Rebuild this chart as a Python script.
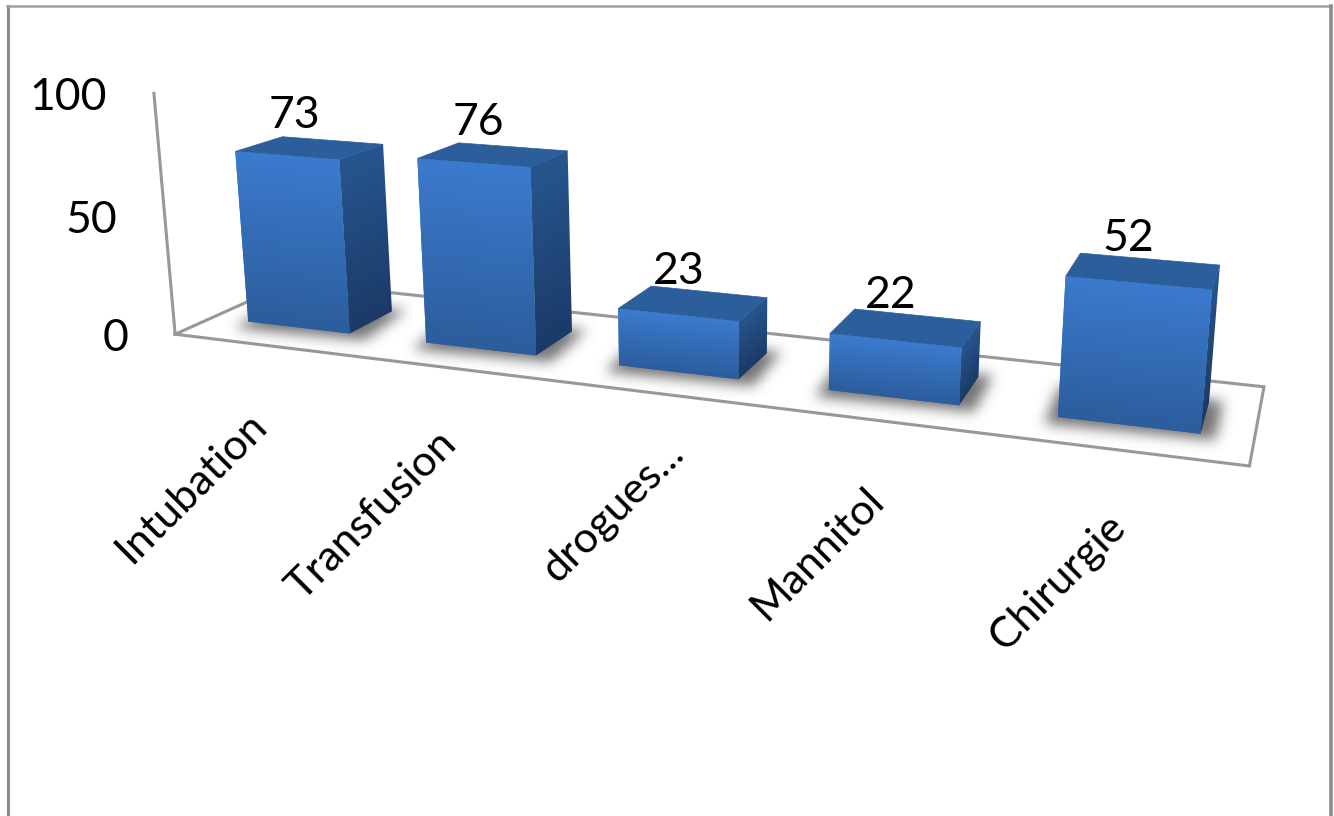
import numpy as np, pandas as pd, seaborn as sns
import matplotlib
matplotlib.use("Agg")
import matplotlib.pyplot as plt
from matplotlib.path import Path
from matplotlib.patches import Polygon
from matplotlib.transforms import Transform

categories = ["Intubation", "Transfusion", "drogues...", "Mannitol", "Chirurgie"]
values = [73, 76, 23, 22, 52]
y_ticks = [0, 50, 100]

W, D0, D1 = 0.58, 0.3, 0.7
# perspective camera of the 3-D chart box: (category, depth, value, 1) -> pixel
CAMERA = np.array([[165.313036, 147.809866, -0.269833, 175.13871],
                   [7.884389, -21.882257, -2.443741, 334.213074],
                   [-0.039652, 0.10769, -0.000374, 1.0]])

def proj(u, d, v):
    h = CAMERA @ np.array([u, d, v, 1.0])
    return np.array([h[0] / h[2], h[1] / h[2]])

class FrontFace(Transform):
    input_dims = output_dims = 2
    def transform_non_affine(self, xy):
        xy = np.asarray(xy)
        q = np.c_[xy[:, 0] + .5, np.full(len(xy), D0), xy[:, 1], np.ones(len(xy))]
        h = q @ CAMERA.T
        return h[:, :2] / h[:, 2:]

FW, FH = 1334, 816
plt.rcParams['font.family'] = ['Lato', 'DejaVu Sans']
fig = plt.figure(figsize=(FW / 100, FH / 100), dpi=100, facecolor='white')
ax = fig.add_axes([0, 0, 1, 1])
canvas = fig.add_axes([0, 0, 1, 1], zorder=3)
canvas.set_xlim(0, FW); canvas.set_ylim(FH, 0); canvas.set_autoscale_on(False); canvas.axis('off')
df = pd.DataFrame({'cat': categories, 'val': values})
sns.barplot(data=df, x='cat', y='val', color='#3468b0', saturation=1, width=W, ax=ax)
ax.set_axis_off(); ax.set_ylim(0, 100)

GRAY = '#989898'
canvas.plot([7.5, 7.5], [816, 6], color='#8c8c8c', lw=2.2, zorder=1)
canvas.plot([7, 1331], [6, 6], color='#a0a0a0', lw=1.8, zorder=1)
canvas.plot([1331, 1331], [6, 816], color='#8c8c8c', lw=2.6, zorder=1)
fl = np.array([proj(0, 0, 0), proj(5, 0, 0), proj(5, 1, 0), proj(0, 1, 0), proj(0, 0, 0)])
canvas.plot(fl[:, 0], fl[:, 1], color=GRAY, lw=2.2, zorder=1, solid_joinstyle='miter')
a0, a1 = proj(0, 0, 0), proj(0, 0, 100)
canvas.plot([a0[0], a1[0]], [a0[1], a1[1]], color=GRAY, lw=2.2, zorder=1)

def blur(m, s):
    r = int(3 * s); k = np.exp(-np.arange(-r, r + 1) ** 2 / (2 * s * s)); k /= k.sum()
    m = np.array([np.convolve(c, k, 'same') for c in m])
    return np.array([np.convolve(c, k, 'same') for c in m.T]).T

def shadow(pts):
    pts = np.asarray(pts); c = pts.mean(0)
    p = pts + np.sign(pts - c) * [14, 4] + [0, 2]
    x0, y0 = (p.min(0) - 32).astype(int); x1, y1 = (p.max(0) + 32).astype(int)
    xx, yy = np.meshgrid(np.arange(x0, x1), np.arange(y0, y1))
    m = Path(p).contains_points(np.c_[xx.ravel(), yy.ravel()]).reshape(xx.shape).astype(float)
    a = blur(m, 6.5) * 0.85
    im = np.zeros(m.shape + (4,)); im[..., :3] = 0.36; im[..., 3] = a
    canvas.imshow(im, extent=(x0, x1, y1, y0), aspect='auto', zorder=2, interpolation='bilinear')

def gradient(tl, tr, br, bl, c0, c1, clip_path, clip_tf, z):
    pts = np.array([tl, tr, br, bl])
    x0, y0 = np.floor(pts.min(0)).astype(int) - 1; x1, y1 = np.ceil(pts.max(0)).astype(int) + 1
    xx, yy = np.meshgrid(np.arange(x0, x1) + .5, np.arange(y0, y1) + .5)
    yt = tl[1] + (xx - tl[0]) * (tr[1] - tl[1]) / max(tr[0] - tl[0], 1e-6)
    yb = bl[1] + (xx - bl[0]) * (br[1] - bl[1]) / max(br[0] - bl[0], 1e-6)
    t = np.clip((yy - yt) / (yb - yt), 0, 1)[..., None]
    im = np.array(matplotlib.colors.to_rgb(c0)) * (1 - t) + np.array(matplotlib.colors.to_rgb(c1)) * t
    h = canvas.imshow(im, extent=(x0, x1, y1, y0), aspect='auto', zorder=z, interpolation='bilinear')
    h.set_clip_path(clip_path, clip_tf)

front_tf = FrontFace() + canvas.transData
for i, (bar, val) in enumerate(zip(ax.patches, values)):
    bar.set_transform(front_tf); bar.set_clip_on(False); bar.set_linewidth(0)
    x = bar.get_x() + .5; w = bar.get_width(); v = bar.get_height()
    l, r = x, x + w
    FTL, FTR, FBL, FBR = proj(l, D0, v), proj(r, D0, v), proj(l, D0, 0), proj(r, D0, 0)
    BTL, BTR, BBR, BBL = proj(l, D1, v), proj(r, D1, v), proj(r, D1, 0), proj(l, D1, 0)
    shadow([FBL, FBR, BBR, BBL])
    canvas.add_patch(Polygon([FTL, FTR, BTR, BTL], fc='#2b5e9a', ec='#2b5e9a', lw=.5, zorder=3))
    gradient(FTR, BTR, BBR, FBR, '#26568f', '#1b3a66', Path([FTR, BTR, BBR, FBR, FTR]), canvas.transData, 3)
    gradient(FTL, FTR, FBR, FBL, '#3b7bce', '#2c5d9c', bar.get_path(), bar.get_transform(), 4)
    tc = proj(x + w / 2, (D0 + D1) / 2, v)
    canvas.text(tc[0] - 15, tc[1] - 32, str(val), fontsize=32, ha='center', va='center', color='black', zorder=6)

for t in y_ticks:
    p = proj(0, 0, t)
    canvas.text(p[0] - 47, p[1] + 4, str(t), fontsize=32, ha='right', va='center', color='black', zorder=6)

centers = [(191, 488), (372, 515), (613, 511), (817, 554), (1058, 582)]
for c, (x, y) in zip(categories, centers):
    canvas.text(x, y, c, fontsize=31, rotation=45, ha='center', va='center', color='black', zorder=6)

fig.savefig('out.png', dpi=100)
